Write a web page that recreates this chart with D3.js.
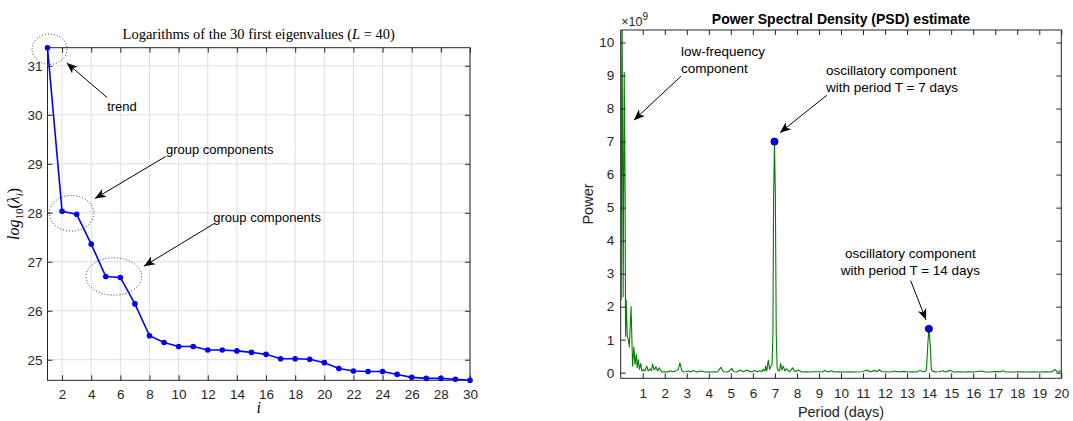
<!DOCTYPE html>
<html>
<head>
<meta charset="utf-8">
<script src="https://cdn.jsdelivr.net/npm/d3@7"></script>
<style>
  body { margin: 0; background: #fff; }
  svg { font-family: "Liberation Sans", Arial, sans-serif; }
</style>
</head>
<body>
<svg id="chart" width="1073" height="421"></svg>
<script>
// ---- left panel: log10 of the first 30 eigenvalues ----
const eigIdx = [1, 2, 3, 4, 5, 6, 7, 8, 9, 10, 11, 12, 13, 14, 15,
  16, 17, 18, 19, 20, 21, 22, 23, 24, 25, 26, 27, 28, 29, 30];
const eigLog = [31.37, 28.03, 27.97, 27.36, 26.70, 26.68, 26.14, 25.49, 25.35, 25.27,
  25.27, 25.20, 25.20, 25.18, 25.15, 25.11, 25.02, 25.02, 25.01, 24.94,
  24.82, 24.77, 24.76, 24.76, 24.70, 24.64, 24.62, 24.62, 24.60, 24.58];
const eigXTicks = [2, 4, 6, 8, 10, 12, 14, 16, 18, 20, 22, 24, 26, 28, 30];
const eigYTicks = [25, 26, 27, 28, 29, 30, 31];

// dotted circles round the grouped eigenvalues (data units: cx, cy, rx, ry)
const eigCircles = [
  [1.14, 31.34, 1.2, 0.31],
  [2.65, 27.99, 1.53, 0.364],
  [5.55, 26.70, 1.91, 0.382]
];
// text labels with arrows (data units)
const eigNotes = [
  { text: "trend", x: 6.11, y: 30.08, anchor: "middle", from: [5.10, 30.35], to: [2.32, 31.06] },
  { text: "group components", x: 9.13, y: 29.21, anchor: "start", from: [9.11, 29.15], to: [4.26, 28.29] },
  { text: "group components", x: 12.38, y: 27.81, anchor: "start", from: [12.5, 27.79], to: [7.62, 26.91] }
];

// ---- right panel: PSD estimate (power in units of 1e9) ----
const psdPeriod = [0.02, 0.06, 0.11, 0.16, 0.20, 0.22, 0.25, 0.30, 0.35, 0.39,
  0.47, 0.54, 0.60, 0.65, 0.71, 0.75, 0.80, 0.85, 0.91, 0.96,
  1.03, 1.10, 1.18, 1.25, 1.33, 1.39, 1.45, 1.52, 1.60, 1.68,
  1.75, 1.86, 2.01, 2.15, 2.24, 2.35, 2.46, 2.61, 2.69, 2.77,
  2.84, 2.95, 3.07, 3.20, 3.30, 3.45, 3.60, 3.68, 3.80, 3.95,
  4.10, 4.25, 4.40, 4.54, 4.66, 4.80, 4.92, 5.04, 5.14, 5.28,
  5.42, 5.57, 5.72, 5.87, 6.00, 6.10, 6.20, 6.32, 6.40, 6.47,
  6.54, 6.58, 6.63, 6.70, 6.76, 6.82, 6.87, 6.91, 6.94, 6.98,
  7.02, 7.06, 7.10, 7.16, 7.21, 7.26, 7.32, 7.38, 7.46, 7.53,
  7.65, 7.72, 7.80, 7.91, 8.06, 8.22, 8.40, 8.60, 8.80, 9.05,
  9.15, 9.27, 9.40, 9.58, 9.70, 9.90, 10.10, 10.40, 10.70, 10.95,
  11.19, 11.30, 11.40, 11.54, 11.62, 11.74, 11.85, 12.07, 12.25, 12.45,
  12.60, 12.86, 13.05, 13.28, 13.45, 13.59, 13.70, 13.81, 13.88, 13.94,
  13.99, 14.05, 14.10, 14.17, 14.30, 14.45, 14.62, 14.75, 14.95, 15.10,
  15.40, 15.60, 15.78, 16.00, 16.39, 16.55, 16.76, 17.07, 17.20, 17.34,
  17.50, 17.82, 18.10, 18.43, 18.70, 19.03, 19.30, 19.49, 19.60, 19.71,
  19.80, 19.87, 20.00];
const psdPower = [2.2, 11.5, 2.3, 9.1, 5.5, 1.1, 2.2, 1.1, 1.0, 0.78,
  2.0, 0.2, 0.78, 0.25, 0.55, 0.15, 0.40, 0.10, 0.28, 0.05,
  0.09, 0.06, 0.20, 0.05, 0.12, 0.06, 0.26, 0.08, 0.18, 0.05,
  0.15, 0.02, 0.03, 0.02, 0.06, 0.03, 0.04, 0.10, 0.30, 0.08,
  0.02, 0.03, 0.05, 0.02, 0.07, 0.02, 0.04, 0.05, 0.02, 0.03,
  0.02, 0.03, 0.02, 0.16, 0.03, 0.02, 0.04, 0.13, 0.03, 0.02,
  0.08, 0.03, 0.08, 0.03, 0.04, 0.07, 0.03, 0.06, 0.03, 0.10,
  0.05, 0.20, 0.05, 0.38, 0.10, 0.20, 0.25, 1.2, 5.2, 7.0,
  5.4, 1.2, 0.15, 0.06, 0.05, 0.28, 0.08, 0.20, 0.05, 0.12,
  0.03, 0.06, 0.15, 0.03, 0.08, 0.02, 0.03, 0.02, 0.03, 0.03,
  0.02, 0.07, 0.02, 0.06, 0.02, 0.03, 0.02, 0.03, 0.02, 0.03,
  0.08, 0.03, 0.04, 0.07, 0.03, 0.09, 0.03, 0.03, 0.02, 0.05,
  0.02, 0.04, 0.02, 0.03, 0.02, 0.07, 0.03, 0.04, 0.10, 0.85,
  1.33, 0.85, 0.10, 0.04, 0.02, 0.03, 0.06, 0.02, 0.07, 0.02,
  0.03, 0.02, 0.03, 0.02, 0.05, 0.02, 0.02, 0.04, 0.02, 0.06,
  0.02, 0.02, 0.03, 0.02, 0.03, 0.02, 0.03, 0.02, 0.04, 0.10,
  0.03, 0.02, 0.07];
const psdXTicks = [1, 2, 3, 4, 5, 6, 7, 8, 9, 10, 11, 12, 13, 14, 15, 16, 17, 18, 19, 20];
const psdYTicks = [0, 1, 2, 3, 4, 5, 6, 7, 8, 9, 10];
const psdMarked = [7, 14];   // periods highlighted with a blue dot

const psdNotes = [
  { lines: ["low-frequency", "component"], x: 2.74, y: 9.60, anchor: "start", from: [2.74, 8.98], to: [0.60, 7.65] },
  { lines: ["oscillatory component", "with period T = 7 days"], x: 9.32, y: 9.03, anchor: "start", from: [9.35, 8.40], to: [7.23, 7.27] },
  { lines: ["oscillatory component", "with period T = 14 days"], x: 13.15, y: 3.47, anchor: "middle", from: [13.16, 2.79], to: [13.86, 1.60] }
];

const axisCol = "#262626";
const svg = d3.select("#chart");

svg.append("defs").append("marker")
  .attr("id", "ah")
  .attr("viewBox", "-12 -6 14 12")
  .attr("refX", 0).attr("refY", 0)
  .attr("markerWidth", 14).attr("markerHeight", 12)
  .attr("markerUnits", "userSpaceOnUse")
  .attr("orient", "auto")
  .append("path")
  .attr("d", "M0,0 L-11,-4.5 L-8,0 L-11,4.5 Z")
  .attr("fill", "#000");

// inward ticks on all four sides, labels on bottom and left
function drawFrame(x, y, xTicks, yTicks, padX, padY) {
  const [x0, x1] = x.range(), [y0, y1] = y.range();
  const g = svg.append("g");
  const styleAxis = (a) => {
    a.select(".domain").remove();
    a.attr("font-size", 13.5).attr("font-family", null);
    a.selectAll("line").attr("stroke", axisCol);
    a.selectAll("text").attr("fill", axisCol);
  };
  const fmt = d3.format("d");
  g.append("g").attr("transform", `translate(0,${y0})`)
    .call(d3.axisBottom(x).tickValues(xTicks).tickFormat(fmt).tickSize(-5).tickPadding(padX))
    .call(styleAxis);
  g.append("g").attr("transform", `translate(0,${y1})`)
    .call(d3.axisTop(x).tickValues(xTicks).tickSize(-5).tickFormat(""))
    .call(styleAxis);
  g.append("g").attr("transform", `translate(${x0},0)`)
    .call(d3.axisLeft(y).tickValues(yTicks).tickFormat(fmt).tickSize(-5).tickPadding(padY))
    .call(styleAxis);
  g.append("g").attr("transform", `translate(${x1},0)`)
    .call(d3.axisRight(y).tickValues(yTicks).tickSize(-5).tickFormat(""))
    .call(styleAxis);
  g.append("rect")
    .attr("x", x0).attr("y", y1)
    .attr("width", x1 - x0).attr("height", y0 - y1)
    .attr("fill", "none").attr("stroke", axisCol).attr("stroke-width", 1);
}

function drawArrow(x, y, n) {
  svg.append("line")
    .attr("x1", x(n.from[0])).attr("y1", y(n.from[1]))
    .attr("x2", x(n.to[0])).attr("y2", y(n.to[1]))
    .attr("stroke", "#000").attr("stroke-width", 1)
    .attr("marker-end", "url(#ah)");
}

// ================= left panel =================
const xL = d3.scaleLinear().domain(d3.extent(eigIdx)).range([47.5, 470]);
const yL = d3.scaleLinear().domain(d3.extent(eigLog)).range([380.3, 47.7]);

const grid = svg.append("g").attr("stroke", "#dfdfdf").attr("stroke-width", 1);
grid.selectAll(".gx").data(eigXTicks).join("line")
  .attr("x1", d => xL(d)).attr("x2", d => xL(d))
  .attr("y1", yL.range()[0]).attr("y2", yL.range()[1]);
grid.selectAll(".gy").data(eigYTicks).join("line")
  .attr("y1", d => yL(d)).attr("y2", d => yL(d))
  .attr("x1", xL.range()[0]).attr("x2", xL.range()[1]);

drawFrame(xL, yL, eigXTicks, eigYTicks, 9, 5);

svg.append("path")
  .datum(eigIdx.map((d, i) => [d, eigLog[i]]))
  .attr("fill", "none").attr("stroke", "#0000ff").attr("stroke-width", 1.6)
  .attr("d", d3.line().x(d => xL(d[0])).y(d => yL(d[1])));
svg.selectAll(".eigdot").data(eigIdx).join("circle")
  .attr("cx", d => xL(d)).attr("cy", (d, i) => yL(eigLog[i]))
  .attr("r", 2.8).attr("fill", "#0000ff");

const pxPerX = (xL.range()[1] - xL.range()[0]) / (xL.domain()[1] - xL.domain()[0]);
const pxPerY = (yL.range()[0] - yL.range()[1]) / (yL.domain()[1] - yL.domain()[0]);
svg.selectAll(".eigcirc").data(eigCircles).join("ellipse")
  .attr("cx", d => xL(d[0])).attr("cy", d => yL(d[1]))
  .attr("rx", d => d[2] * pxPerX).attr("ry", d => d[3] * pxPerY)
  .attr("fill", "none").attr("stroke", "#333").attr("stroke-width", 1)
  .attr("stroke-dasharray", "1 2");

eigNotes.forEach(n => {
  svg.append("text").attr("x", xL(n.x)).attr("y", yL(n.y))
    .attr("text-anchor", n.anchor).attr("font-size", 13).attr("fill", "#000")
    .text(n.text);
  drawArrow(xL, yL, n);
});

const titleL = svg.append("text")
  .attr("x", (xL.range()[0] + xL.range()[1]) / 2).attr("y", 38.5)
  .attr("text-anchor", "middle")
  .attr("font-family", "'Liberation Serif', 'DejaVu Serif', serif")
  .attr("font-size", 14.5).attr("fill", "#000");
titleL.append("tspan").text("Logarithms of the 30 first eigenvalues (");
titleL.append("tspan").attr("font-style", "italic").text("L");
titleL.append("tspan").text(" = 40)");

svg.append("text")
  .attr("x", (xL.range()[0] + xL.range()[1]) / 2).attr("y", 413)
  .attr("text-anchor", "middle")
  .attr("font-family", "'Liberation Serif', serif").attr("font-style", "italic")
  .attr("font-size", 16).text("i");

const ylab = svg.append("text")
  .attr("transform", "translate(19,214) rotate(-90)")
  .attr("text-anchor", "middle")
  .attr("font-family", "'Liberation Serif', serif").attr("font-size", 16);
ylab.append("tspan").attr("font-style", "italic").text("log");
ylab.append("tspan").attr("font-size", 11).attr("dy", 4).text("10");
ylab.append("tspan").attr("dy", -4).text("(");
ylab.append("tspan").attr("font-style", "italic").text("λ");
ylab.append("tspan").attr("font-style", "italic").attr("font-size", 11).attr("dy", 4).text("i");
ylab.append("tspan").attr("dy", -4).text(")");

// ================= right panel =================
const xR = d3.scaleLinear().domain([0, 20]).range([620.7, 1061.3]);
const yR = d3.scaleLinear().domain([-0.17, 10.38]).range([378.3, 30]);

svg.append("clipPath").attr("id", "clipR").append("rect")
  .attr("x", xR.range()[0]).attr("y", yR.range()[1])
  .attr("width", xR.range()[1] - xR.range()[0])
  .attr("height", yR.range()[0] - yR.range()[1]);

svg.append("path")
  .datum(psdPeriod.map((d, i) => [d, psdPower[i]]))
  .attr("clip-path", "url(#clipR)")
  .attr("fill", "none").attr("stroke", "#008000").attr("stroke-width", 1.1)
  .attr("stroke-linejoin", "round")
  .attr("d", d3.line().x(d => xR(d[0])).y(d => yR(d[1])));

drawFrame(xR, yR, psdXTicks, psdYTicks, 10, 6.5);

// blue dots on the highest point near each marked period
const peaks = psdMarked.map(p => {
  let best = -1;
  psdPeriod.forEach((d, i) => {
    if (Math.abs(d - p) < 0.3 && (best < 0 || psdPower[i] > psdPower[best])) best = i;
  });
  return [psdPeriod[best], psdPower[best]];
});
svg.selectAll(".peak").data(peaks).join("circle")
  .attr("cx", d => xR(d[0])).attr("cy", d => yR(d[1]))
  .attr("r", 3.6).attr("fill", "#0000ff").attr("stroke", "#000").attr("stroke-width", 0.8);

psdNotes.forEach(n => {
  const t = svg.append("text").attr("text-anchor", n.anchor)
    .attr("font-size", 13.5).attr("fill", "#000");
  n.lines.forEach((s, k) => {
    t.append("tspan").attr("x", xR(n.x)).attr("y", yR(n.y) + k * 17).text(s);
  });
  drawArrow(xR, yR, n);
});

svg.append("text")
  .attr("x", (xR.range()[0] + xR.range()[1]) / 2).attr("y", 24)
  .attr("text-anchor", "middle").attr("font-weight", "bold")
  .attr("font-size", 14).attr("fill", "#000")
  .text("Power Spectral Density (PSD) estimate");

const expo = svg.append("text").attr("x", xR.range()[0] + 0.5).attr("y", 26)
  .attr("font-size", 12.5).attr("fill", axisCol);
expo.append("tspan").text("×10");
expo.append("tspan").attr("font-size", 10).attr("dy", -6).text("9");

svg.append("text")
  .attr("x", (xR.range()[0] + xR.range()[1]) / 2).attr("y", 417)
  .attr("text-anchor", "middle").attr("font-size", 14.5).attr("fill", axisCol)
  .text("Period (days)");

svg.append("text")
  .attr("transform", "translate(593,204) rotate(-90)")
  .attr("text-anchor", "middle").attr("font-size", 14.5).attr("fill", axisCol)
  .text("Power");
</script>
</body>
</html>
